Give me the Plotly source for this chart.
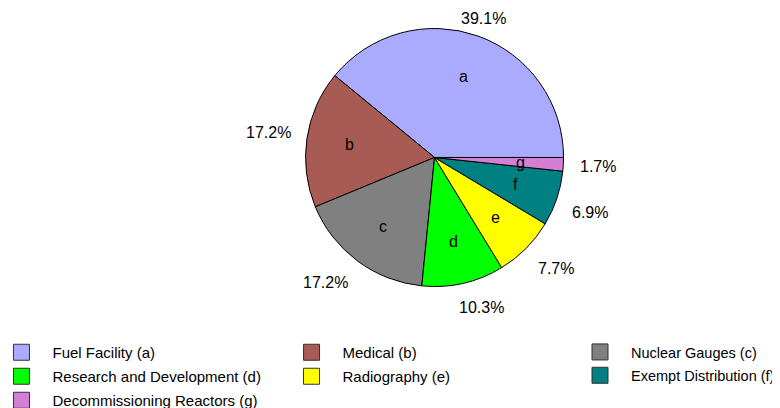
import math
import plotly.graph_objects as go

labels = ["Fuel Facility (a)", "Medical (b)", "Nuclear Gauges (c)",
          "Research and Development (d)", "Radiography (e)",
          "Exempt Distribution (f)", "Decommissioning Reactors (g)"]
letters = ["a", "b", "c", "d", "e", "f", "g"]
shares = [39.1, 17.2, 17.2, 10.3, 7.7, 6.9, 1.7]
pct_text = [f"{v:.1f}%" for v in shares]
slice_colors = ["#AAAAFF", "#A85A55", "#808080", "#00FF00", "#FFFF00", "#008080", "#D47FD4"]

# legend column of each category (3 columns, filled row by row)
legend_col = ["legend", "legend2", "legend3", "legend", "legend2", "legend3", "legend"]

# page body has an 8px margin, so the figure is a bit smaller than the window
W, H = 772, 400
pie_x = [0.3854, 0.7196]
pie_y = [0.3038, 0.9488]

# plotly puts the first ccw slice clockwise of `rotation`, so shift it back
# so slice a starts at 3 o'clock and runs counterclockwise
total = sum(shares)
start = 90 - 360 * shares[0] / total

fig = go.Figure()

fig.add_trace(go.Pie(
    labels=labels, values=shares, textinfo="none",
    marker=dict(colors=slice_colors, line=dict(color="black", width=1)),
    sort=False, direction="counterclockwise", rotation=start,
    domain=dict(x=pie_x, y=pie_y),
    showlegend=False, hoverinfo="label+percent",
))

# pie geometry in pixels, for the labels
cx = W * (pie_x[0] + pie_x[1]) / 2
cy = H * (1 - (pie_y[0] + pie_y[1]) / 2)
R = min(W * (pie_x[1] - pie_x[0]), H * (pie_y[1] - pie_y[0])) / 2

def clip(v):
    return max(-1.0, min(1.0, v))

cum = 0
for lt, pt, v in zip(letters, pct_text, shares):
    mid = math.radians(360 * (cum + v / 2) / total)
    cum += v
    ux, uy = math.cos(mid), -math.sin(mid)

    # letter inside the slice
    lx, ly = cx + 0.665 * R * ux, cy + 0.665 * R * uy
    fig.add_annotation(x=lx / W, y=1 - ly / H, xref="paper", yref="paper",
                       text=lt, showarrow=False, font=dict(size=16),
                       xanchor="center", yanchor="middle")

    # percentage outside, box corner ~16px off the rim
    hw = 16 * (0.556 * (len(pt) - 2) + 0.278 + 0.889) / 2
    hh = 9
    px = cx + (R + 16) * ux + hw * clip(3 * ux)
    py = cy + (R + 16) * uy + hh * clip(3 * uy)
    if py < 10:  # hits the top: keep it on the ray instead of pushing sideways
        py = 10
        px = cx + (R + 16) * ux
    fig.add_annotation(x=px / W, y=1 - py / H, xref="paper", yref="paper",
                       text=pt, showarrow=False, font=dict(size=16),
                       xanchor="center", yanchor="middle")

# legend entries (pie legends can't be split into 3 wide columns)
for lab, col, lg in zip(labels, slice_colors, legend_col):
    fig.add_trace(go.Scatter(
        x=[None], y=[None], mode="markers", name=lab, legend=lg,
        legendgroup=lab,
        marker=dict(symbol="square", size=16, color=col,
                    line=dict(color="#333333", width=1)),
    ))

leg_style = dict(yanchor="top", y=0.18, itemwidth=52,
                 tracegroupgap=1.5, bgcolor="rgba(0,0,0,0)")

fig.update_layout(
    width=W, height=H,
    margin=dict(l=0, r=0, t=0, b=0, autoexpand=False),
    paper_bgcolor="white", plot_bgcolor="white",
    font=dict(family="Liberation Sans, Arial, sans-serif", size=15, color="black"),
    xaxis=dict(visible=False), yaxis=dict(visible=False),
    legend=dict(x=-0.0227, xanchor="left", font=dict(size=15), **leg_style),
    legend2=dict(x=0.353, xanchor="left", font=dict(size=15), **leg_style),
    legend3=dict(x=1, xanchor="right", font=dict(size=14.5), **leg_style),
)

fig.write_html("out.html")
